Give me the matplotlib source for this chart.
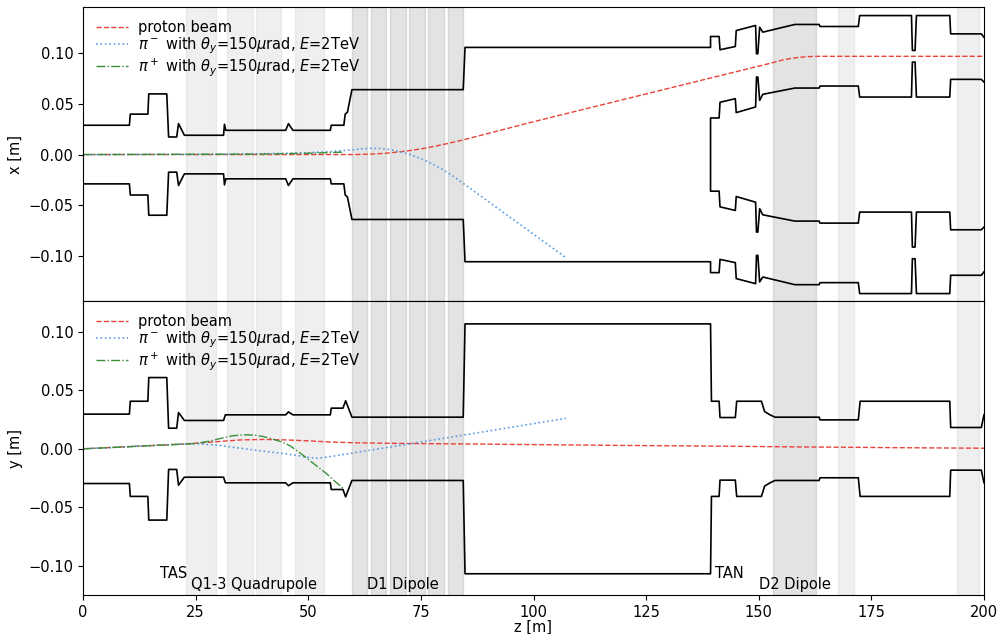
import matplotlib
matplotlib.use("Agg")
import matplotlib.pyplot as plt
import numpy as np

plt.rcParams["font.size"] = 10.5

# ---------------- data ----------------
# single beam pipe, horizontal (x) half-aperture, z <= 139.3 m
z_xap = [0, 10.3, 10.5, 14.4, 14.6, 18.6, 19.0, 20.8, 21.2, 22.5, 31.2, 31.4, 31.7,
         45.0, 45.6, 46.6, 54.9, 55.1, 57.9, 58.2, 58.7, 59.7, 84.4, 84.8, 139.3]
x_ap = [0.029, 0.029, 0.040, 0.040, 0.060, 0.060, 0.0174, 0.0174, 0.0306, 0.0191, 0.0191,
        0.030, 0.024, 0.024, 0.0306, 0.024, 0.024, 0.029, 0.029, 0.040, 0.042, 0.0642,
        0.0642, 0.106, 0.106]

# separated beam pipe after TAN (upper pipe; lower pipe is its mirror)
z_pipe = [139.3, 141.2, 141.4, 144.8, 145.0, 149.3, 149.5, 149.8, 150.2, 150.9, 158.0,
          163.4, 163.6, 172.1, 172.4, 183.9, 184.1, 184.7, 185.0, 192.4, 192.6, 199.4, 200]
x_pipe_out = [0.1168, 0.1168, 0.1037, 0.1069, 0.1227, 0.1277, 0.0997, 0.0997, 0.126,
              0.1211, 0.1287, 0.1287, 0.1267, 0.1267, 0.1375, 0.1375, 0.103, 0.103,
              0.1375, 0.1375, 0.1194, 0.1194, 0.116]
x_pipe_in = [0.0362, 0.0362, 0.0517, 0.0553, 0.0415, 0.0471, 0.0767, 0.0767, 0.0536,
             0.0596, 0.0658, 0.0658, 0.0678, 0.0678, 0.0569, 0.0569, 0.0915, 0.0915,
             0.0569, 0.0569, 0.0744, 0.0744, 0.0717]

# vertical (y) half-aperture
z_yap = [0, 10.3, 10.5, 14.4, 14.6, 18.6, 19.0, 20.8, 21.2, 22.5, 31.2, 31.6, 45.0, 45.6,
         46.6, 54.9, 55.1, 57.7, 58.3, 59.7, 84.4, 84.8, 139.3, 139.5, 141.2, 141.4,
         144.8, 145.1, 150.6, 151.3, 152.5, 153.6, 163.4, 163.6, 172.1, 172.5, 192.4,
         192.6, 199.4, 200]
y_ap = [0.0296, 0.0296, 0.0406, 0.0406, 0.0608, 0.0608, 0.0176, 0.0176, 0.031, 0.0242,
        0.0242, 0.029, 0.029, 0.0315, 0.029, 0.029, 0.0347, 0.0347, 0.041, 0.027, 0.027,
        0.1066, 0.1066, 0.0406, 0.0406, 0.0267, 0.0267, 0.0406, 0.0406, 0.0318, 0.029,
        0.027, 0.027, 0.0247, 0.0247, 0.0406, 0.0406, 0.0182, 0.0182, 0.029]

# proton beam
z_p_x = [0, 60, 64, 68, 72, 76, 80, 84.4, 100, 120, 140, 153, 155, 157, 159, 161, 163, 200]
p_x = [0, 0, 0.0004, 0.0016, 0.0036, 0.0064, 0.0100, 0.0145, 0.0325, 0.0545, 0.0765,
       0.0908, 0.0932, 0.0950, 0.0962, 0.0969, 0.0972, 0.0972]
z_p_y = [0, 23, 30, 35, 40, 45, 50, 55, 60, 70, 84, 100, 120, 140, 160, 180, 200]
p_y = [0, 0.0042, 0.0062, 0.0076, 0.0080, 0.0076, 0.0068, 0.0058, 0.0052, 0.0046,
       0.0042, 0.0036, 0.0029, 0.0023, 0.0016, 0.0010, 0.0005]

# pi- track
z_m = [0, 30, 40, 50, 55, 59.7, 62, 64, 66, 68, 70, 72, 74, 76, 78, 80, 82, 84.4, 107.2]
m_x = [0, 0.0003, 0.0008, 0.0018, 0.0030, 0.0047, 0.0058, 0.0062, 0.0060, 0.0050,
       0.0032, 0.0008, -0.0023, -0.0060, -0.0103, -0.0153, -0.0209, -0.0285, -0.102]
z_m_y = [0, 10, 20, 25, 30, 35, 40, 45, 48, 50, 52, 54, 60, 70, 84.4, 107.2]
m_y = [0, 0.0018, 0.0037, 0.0045, 0.0030, 0.0005, -0.0020, -0.0043, -0.0060, -0.0073,
       -0.0080, -0.0072, -0.0035, 0.0027, 0.0117, 0.0260]

# pi+ track
z_pl = [0, 40, 50, 55, 58]
pl_x = [0, 0.0005, 0.0013, 0.0020, 0.0025]
z_pl_y = [0, 25, 28, 31, 33, 35.5, 38, 40, 42, 44, 46, 48, 50, 52, 54, 56, 57.8]
pl_y = [0, 0.0045, 0.0065, 0.0093, 0.0110, 0.0120, 0.0117, 0.0105, 0.0085, 0.0060,
        0.0025, -0.0030, -0.0090, -0.0150, -0.0210, -0.0280, -0.0340]

# magnet regions
light_bands = [(22.95, 29.46), (31.96, 37.67), (38.49, 44.04), (46.99, 53.43),
               (167.7, 171.2), (194.0, 199.0)]
dark_bands = [(59.64, 62.97), (63.86, 67.35), (68.15, 71.63), (72.36, 75.85),
              (76.67, 80.13), (81.02, 84.44), (153.1, 162.6)]

labels = ["TAS", "Q1-3 Quadrupole", "D1 Dipole", "TAN", "D2 Dipole"]
label_z = [17.0, 23.9, 63.1, 140.2, 150.0]
label_y = [-0.106, -0.116, -0.116, -0.106, -0.116]

leg_labels = ["proton beam",
              r"$\pi^-$ with $\theta_y$=150$\mu$rad, $E$=2TeV",
              r"$\pi^+$ with $\theta_y$=150$\mu$rad, $E$=2TeV"]

# ---------------- plot ----------------
fig, (ax1, ax2) = plt.subplots(2, 1, sharex=True, figsize=(10, 6.34), dpi=100)
fig.subplots_adjust(left=0.083, right=0.984, top=0.989, bottom=0.061, hspace=0)

c_red = "#e8433a"
c_blue = "#5a9be0"
c_green = "#3a8f3a"
lw_ap = 1.2

for ax in (ax1, ax2):
    for a, b in light_bands:
        ax.axvspan(a, b, color="gray", alpha=0.12, lw=1)
    for a, b in dark_bands:
        ax.axvspan(a, b, color="gray", alpha=0.22, lw=1)

# top panel: x
xa = np.array(x_ap)
xo = np.array(x_pipe_out)
xi = np.array(x_pipe_in)
ax1.plot(z_xap + z_pipe, np.concatenate([xa, xo]), color="k", lw=lw_ap)
ax1.plot(z_xap + z_pipe, np.concatenate([-xa, -xo]), color="k", lw=lw_ap)
ax1.plot(z_pipe[::-1] + z_pipe, np.concatenate([-xi[::-1], xi]), color="k", lw=lw_ap)

ax1.plot(z_p_x, p_x, "--", color=c_red, lw=1, label=leg_labels[0])
ax1.plot(z_m, m_x, ":", color=c_blue, lw=1.2, label=leg_labels[1])
ax1.plot(z_pl, pl_x, "-.", color=c_green, lw=1, label=leg_labels[2])
ax1.set_ylim(-0.145, 0.146)
ax1.set_ylabel("x [m]")
ax1.legend(loc="upper left", frameon=False, labelspacing=0.0,
           borderaxespad=0.5, handlelength=2.2, handletextpad=0.7)

# bottom panel: y
ya = np.array(y_ap)
ax2.plot(z_yap, ya, color="k", lw=lw_ap)
ax2.plot(z_yap, -ya, color="k", lw=lw_ap)
ax2.plot(z_p_y, p_y, "--", color=c_red, lw=1, label=leg_labels[0])
ax2.plot(z_m_y, m_y, ":", color=c_blue, lw=1.2, label=leg_labels[1])
ax2.plot(z_pl_y, pl_y, "-.", color=c_green, lw=1, label=leg_labels[2])
ax2.set_ylim(-0.125, 0.126)
ax2.set_ylabel("y [m]")
ax2.set_xlabel("z [m]", labelpad=0)
ax2.legend(loc="upper left", frameon=False, labelspacing=0.0,
           borderaxespad=0.5, handlelength=2.2, handletextpad=0.7)

for t, zz, yy in zip(labels, label_z, label_y):
    ax2.text(zz, yy, t, ha="left", va="center")

ax2.set_xlim(0, 200)
ax2.set_xticks([0, 25, 50, 75, 100, 125, 150, 175, 200])

fig.savefig("out.png", dpi=100)
